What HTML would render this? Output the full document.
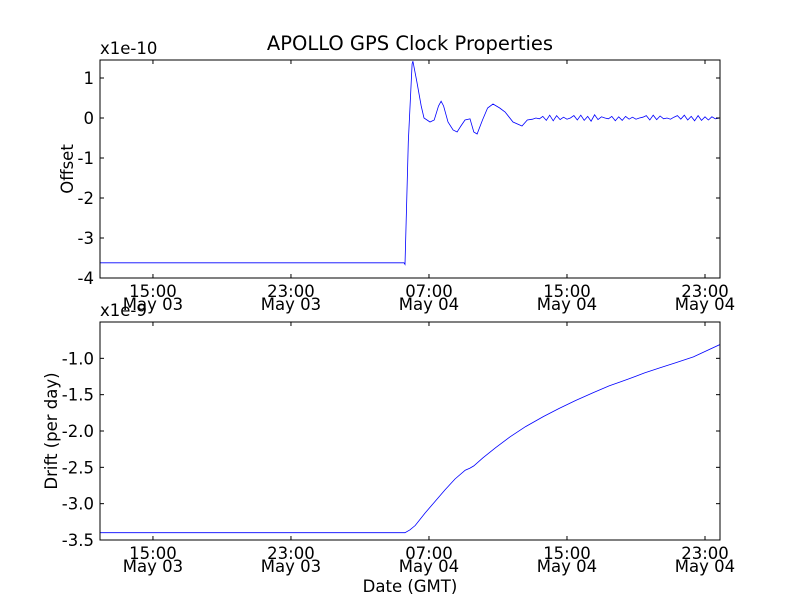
<!DOCTYPE html>
<html><head><meta charset="utf-8"><style>
html,body{margin:0;padding:0;background:#fff;}
svg{display:block;font-family:"DejaVu Sans","Liberation Sans",sans-serif;}
</style></head><body>
<svg id="chart" width="800" height="600" viewBox="0 0 800 600" xmlns="http://www.w3.org/2000/svg">
<rect width="800" height="600" fill="#fff"/>
<text x="410" y="50" font-size="19.5" text-anchor="middle">APOLLO GPS Clock Properties</text>
<text x="410" y="592" font-size="16.5" text-anchor="middle">Date (GMT)</text>
<text transform="translate(73,169) rotate(-90)" font-size="16.5" text-anchor="middle">Offset</text>
<text transform="translate(57,431) rotate(-90)" font-size="16.5" text-anchor="middle">Drift (per day)</text>
<text x="100" y="54" font-size="16.5">x1e-10</text>
<text x="100" y="316" font-size="16.5">x1e-9</text>
<g id="g"></g>
</svg>
<script>
// time in hours since May 03 00:00
const xTickHours = [15, 23, 31, 39, 47];
const xTickTimes = ["15:00","23:00","07:00","15:00","23:00"];
const xTickDates = ["May 03","May 03","May 04","May 04","May 04"];
const xMin = 11.93, xMax = 47.87;

const offTicks = [1, 0, -1, -2, -3, -4];
const offHours = [11.93,29.55,29.61,29.80,30.02,30.07,30.30,30.55,30.71,31.06,31.30,31.55,31.70,31.85,32.10,32.40,32.63,32.85,33.09,33.38,33.60,33.79,34.10,34.40,34.71,35.10,35.41,35.87,36.39,36.70,
37.0,37.2,37.4,37.6,37.8,38.0,38.2,38.4,38.6,38.8,39.0,39.2,39.4,39.6,39.8,40.0,40.2,40.4,40.6,40.8,41.0,41.2,41.4,41.6,41.8,42.0,42.2,42.4,42.6,42.8,43.0,43.2,43.4,43.6,43.8,44.0,44.2,44.4,44.6,44.8,45.0,45.2,45.4,45.6,45.8,46.0,46.2,46.4,46.6,46.8,47.0,47.2,47.4,47.6,47.87];
const offValues = [-3.62,-3.62,-3.66,-0.6,1.35,1.42,0.9,0.3,0.0,-0.1,-0.05,0.3,0.42,0.3,-0.1,-0.3,-0.35,-0.2,-0.05,-0.02,-0.35,-0.4,-0.05,0.25,0.35,0.25,0.15,-0.1,-0.2,-0.05,
-0.03,0.0,-0.02,0.04,-0.06,0.07,-0.07,0.06,-0.04,0.02,-0.03,0.0,0.06,-0.05,0.07,-0.06,0.04,-0.08,0.08,-0.04,0.03,0.0,-0.02,0.04,-0.07,0.03,-0.06,0.04,-0.03,0.02,-0.03,0.0,0.02,0.06,-0.05,0.07,-0.04,0.05,-0.02,0.0,-0.03,0.02,0.06,-0.03,0.07,-0.05,0.04,-0.07,0.06,-0.06,0.03,-0.05,0.03,-0.02,0.0];

const driftTicks = [-1.0, -1.5, -2.0, -2.5, -3.0, -3.5];
const driftTickLabels = ["-1.0","-1.5","-2.0","-2.5","-3.0","-3.5"];
const driftHours = [11.93,29.61,29.90,30.20,30.77,31.35,31.93,32.51,33.10,33.38,33.60,34.12,34.86,35.70,36.60,37.64,38.54,39.50,40.54,41.44,42.50,43.50,44.40,45.30,46.33,47.87];
const driftValues = [-3.40,-3.40,-3.36,-3.30,-3.13,-2.97,-2.81,-2.66,-2.54,-2.51,-2.48,-2.37,-2.23,-2.08,-1.94,-1.80,-1.69,-1.58,-1.47,-1.38,-1.29,-1.20,-1.13,-1.06,-0.98,-0.81];

const NS = "http://www.w3.org/2000/svg";
const g = document.getElementById("g");
function mk(tag, attrs, parent){const e=document.createElementNS(NS,tag);for(const k in attrs)e.setAttribute(k,attrs[k]);(parent||g).appendChild(e);return e;}
const L=100,R=720;
function xs(h){return L+(h-xMin)/(xMax-xMin)*(R-L);}

function panel(name, top, bottom, yMin, yMax, ticks, tickLabels, hours, vals){
  const ys=v=>bottom-(v-yMin)/(yMax-yMin)*(bottom-top);
  const cp=mk("clipPath",{id:"clip-"+name});mk("rect",{x:L,y:top,width:R-L,height:bottom-top},cp);
  const line=mk("polyline",{points:hours.map((h,i)=>xs(h).toFixed(1)+","+ys(vals[i]).toFixed(1)).join(" "),fill:"none",stroke:"#0000ff","stroke-width":0.8,"clip-path":"url(#clip-"+name+")"});
  
  
  const frame=mk("rect",{x:L,y:top,width:R-L,height:bottom-top,fill:"none",stroke:"#000","stroke-width":1});
  
  
  ticks.forEach((t,i)=>{
    const y=ys(t);
    mk("line",{x1:L,x2:L+4,y1:y,y2:y,stroke:"#000"});
    mk("line",{x1:R-4,x2:R,y1:y,y2:y,stroke:"#000"});
    const tx=mk("text",{x:L-6,y:y+6,"font-size":16.5,"text-anchor":"end"});
    
    
    tx.textContent=tickLabels[i];
  });
  xTickHours.forEach((h,i)=>{
    const x=xs(h);
    mk("line",{x1:x,x2:x,y1:bottom-4,y2:bottom,stroke:"#000"});
    mk("line",{x1:x,x2:x,y1:top,y2:top+4,stroke:"#000"});
    const t1=mk("text",{x:x,y:bottom+19,"font-size":16.5,"text-anchor":"middle"});
    
    
    t1.textContent=xTickTimes[i];
    const t2=mk("text",{x:x,y:bottom+32,"font-size":16.5,"text-anchor":"middle"});
    
    
    t2.textContent=xTickDates[i];
  });
}
panel("offset",60,278,-4,1.45,offTicks,offTicks.map(String),offHours,offValues);
panel("drift",322,540,-3.5,-0.5,driftTicks,driftTickLabels,driftHours,driftValues);
</script>
</body></html>
